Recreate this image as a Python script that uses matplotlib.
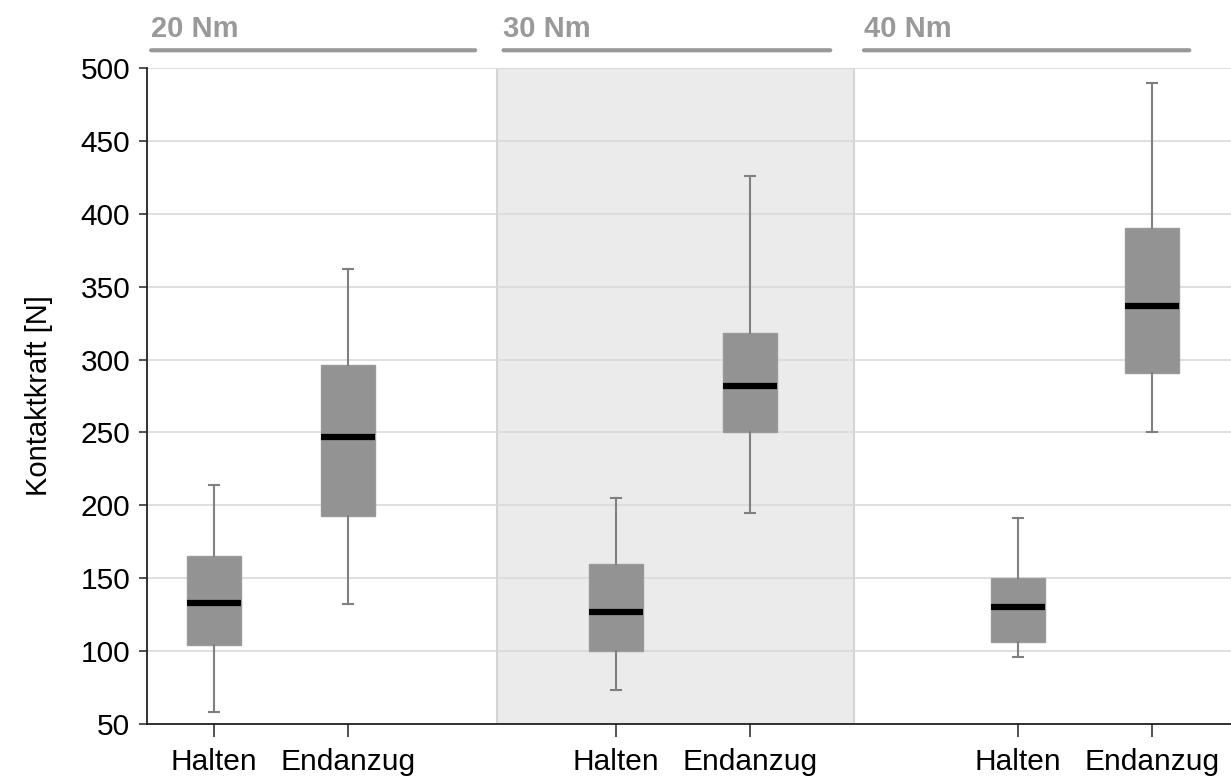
import matplotlib.pyplot as plt

plt.rcParams['font.family'] = ['Liberation Sans', 'DejaVu Sans']

groups = ['20 Nm', '30 Nm', '40 Nm']
labels = ['Halten', 'Endanzug', 'Halten', 'Endanzug', 'Halten', 'Endanzug']
whislo = [58, 132, 73, 195, 96, 250]
q1 = [104, 193, 100, 250, 106, 291]
med = [133, 247, 127, 282, 130, 337]
q3 = [165, 296, 160, 318, 150, 390]
whishi = [214, 362, 205, 426, 191, 490]

pos = [0, 1, 3, 4, 6, 7]

stats = []
for i in range(len(labels)):
    stats.append({'whislo': whislo[i], 'q1': q1[i], 'med': med[i],
                  'q3': q3[i], 'whishi': whishi[i], 'fliers': []})

fig = plt.figure(figsize=(12.31, 7.76), dpi=100)
ax = fig.add_axes([0.1194, 0.067, 0.8806, 0.8454])

ax.axvspan(2.11, 4.78, facecolor='#ebebeb', edgecolor='#d4d4d4', lw=1.5, zorder=0)
ax.set_axisbelow(True)
ax.yaxis.grid(True, color='#d9d9d9', lw=1.2)

ax.bxp(stats, positions=pos, widths=0.4, patch_artist=True, showfliers=False,
       boxprops=dict(facecolor='#939393', edgecolor='#9a9a9a', lw=1),
       medianprops=dict(color='black', lw=4.5, solid_capstyle='butt'),
       whiskerprops=dict(color='#808080', lw=1.5),
       capprops=dict(color='#808080', lw=1.5), capwidths=0.07)

ax.set_xlim(-0.5, 7.59)
ax.set_ylim(50, 500)
ax.set_yticks(range(50, 501, 50))
ax.set_xticks(pos)
ax.set_xticklabels(labels)
ax.tick_params(labelsize=21.5, width=1.2, color='#333333')
ax.tick_params(axis='y', length=6, pad=6)
ax.tick_params(axis='x', length=9, pad=8)
ax.set_ylabel('Kontaktkraft [N]', fontsize=21, labelpad=20)

for s in ['top', 'right']:
    ax.spines[s].set_visible(False)
for s in ['left', 'bottom']:
    ax.spines[s].set_linewidth(1.3)
    ax.spines[s].set_color('#222222')

# group labels above the plot
spans = [(-0.49, 1.97), (2.14, 4.62), (4.83, 7.3)]
for g, (a, b) in zip(groups, spans):
    ax.annotate('', xy=(a, 1.027), xytext=(b, 1.027), xycoords=('data', 'axes fraction'),
                arrowprops=dict(arrowstyle='-', color='#999999', lw=3))
    ax.text(a + 0.02, 1.038, g, transform=ax.get_xaxis_transform(),
            fontsize=21, fontweight='bold', color='#999999', va='bottom')

fig.savefig('out.png', dpi=100)
